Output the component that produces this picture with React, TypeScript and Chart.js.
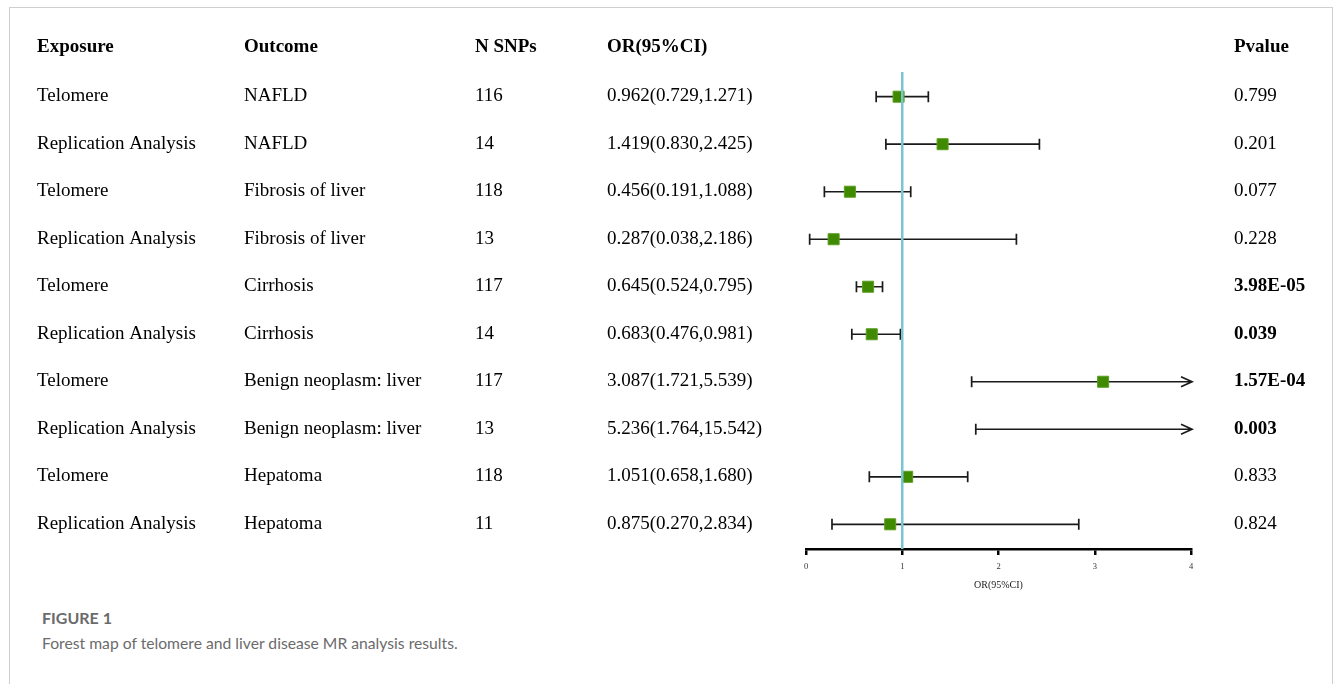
import React, { useEffect, useRef } from "react";
import { Chart, registerables } from "chart.js";

Chart.register(...registerables);

const headers = ["Exposure", "Outcome", "N SNPs", "OR(95%CI)", "Pvalue"];
const exposures = [
  "Telomere", "Replication Analysis", "Telomere", "Replication Analysis", "Telomere",
  "Replication Analysis", "Telomere", "Replication Analysis", "Telomere", "Replication Analysis",
];
const outcomes = [
  "NAFLD", "NAFLD", "Fibrosis of liver", "Fibrosis of liver", "Cirrhosis",
  "Cirrhosis", "Benign neoplasm: liver", "Benign neoplasm: liver", "Hepatoma", "Hepatoma",
];
const nSnps = [116, 14, 118, 13, 117, 14, 117, 13, 118, 11];
const orValues = [0.962, 1.419, 0.456, 0.287, 0.645, 0.683, 3.087, 5.236, 1.051, 0.875];
const ciLower = [0.729, 0.83, 0.191, 0.038, 0.524, 0.476, 1.721, 1.764, 0.658, 0.27];
const ciUpper = [1.271, 2.425, 1.088, 2.186, 0.795, 0.981, 5.539, 15.542, 1.68, 2.834];
const pValues = ["0.799", "0.201", "0.077", "0.228", "3.98E-05", "0.039", "1.57E-04", "0.003", "0.833", "0.824"];
const pBold = [false, false, false, false, true, true, true, true, false, false];
const xTicks = [0, 1, 2, 3, 4];
const refValue = 1;
const axisTitle = "OR(95%CI)";
const figureLabel = "FIGURE 1";
const captionText = "Forest map of telomere and liver disease MR analysis results.";

const X_MIN = xTicks[0];
const X_MAX = xTicks[xTicks.length - 1];
const Y_MIN = -0.52;
const Y_MAX = 9.52;
// column x positions in canvas px
const colX = [27, 234, 465, 597, 1224];

const fmt = (v: number) => v.toFixed(3);

const forestPlugin = {
  id: "forestTable",
  beforeDatasetsDraw(chart: any) {
    const { ctx, scales } = chart;
    const xs = scales.x;
    const ys = scales.y;
    ctx.save();
    ctx.strokeStyle = "#1a1a1a";
    ctx.lineWidth = 1.7;
    for (let i = 0; i < orValues.length; i++) {
      const y = ys.getPixelForValue(i);
      const x1 = xs.getPixelForValue(ciLower[i]);
      const over = ciUpper[i] > X_MAX;
      const x2 = xs.getPixelForValue(over ? X_MAX : ciUpper[i]);
      ctx.beginPath();
      ctx.moveTo(x1, y);
      ctx.lineTo(x2, y);
      ctx.moveTo(x1, y - 5.5);
      ctx.lineTo(x1, y + 5.5);
      if (over) {
        ctx.moveTo(x2 - 10, y - 5);
        ctx.lineTo(x2 + 1, y);
        ctx.lineTo(x2 - 10, y + 5);
      } else {
        ctx.moveTo(x2, y - 5.5);
        ctx.lineTo(x2, y + 5.5);
      }
      ctx.stroke();
    }
    ctx.restore();
  },
  afterDraw(chart: any) {
    const { ctx, scales } = chart;
    const ys = scales.y;
    ctx.save();
    ctx.fillStyle = "#000";
    ctx.textBaseline = "middle";
    ctx.textAlign = "left";
    const off = -0.5;
    ctx.font = 'bold 19px "Liberation Serif"';
    const hy = ys.getPixelForValue(-1) - 2.5;
    headers.forEach((h, k) => ctx.fillText(h, colX[k], hy));
    for (let i = 0; i < exposures.length; i++) {
      const y = ys.getPixelForValue(i) + off;
      ctx.font = '19px "Liberation Serif"';
      ctx.fillText(exposures[i], colX[0], y);
      ctx.fillText(outcomes[i], colX[1], y);
      ctx.fillText(String(nSnps[i]), colX[2], y);
      ctx.fillText(`${fmt(orValues[i])}(${fmt(ciLower[i])},${fmt(ciUpper[i])})`, colX[3], y);
      ctx.font = (pBold[i] ? "bold " : "") + '19px "Liberation Serif"';
      ctx.fillText(pValues[i], colX[4], y);
    }
    ctx.restore();
  },
};

export default function App() {
  const canvasRef = useRef<HTMLCanvasElement | null>(null);

  useEffect(() => {
    if (!canvasRef.current) return;
    const points = orValues.map((v, i) => ({ x: v, y: i }));
    const refLine = [
      { x: refValue, y: Y_MIN },
      { x: refValue, y: Y_MAX },
    ];
    const chart = new Chart(canvasRef.current, {
      type: "scatter",
      data: {
        datasets: [
          {
            data: refLine,
            showLine: true,
            borderColor: "#78c6cf",
            borderWidth: 2.5,
            pointRadius: 0,
          },
          {
            data: points,
            pointStyle: "rect",
            pointRadius: 7.8,
            backgroundColor: "#3f8a00",
            borderColor: "#5a9e22",
            borderWidth: 1,
          },
        ],
      } as any,
      options: {
        animation: false,
        responsive: true,
        maintainAspectRatio: false,
        events: [],
        layout: { padding: { left: 796, right: 141, top: 64, bottom: 9 } },
        plugins: { legend: { display: false }, tooltip: { enabled: false } },
        scales: {
          x: {
            type: "linear",
            position: "bottom",
            min: X_MIN,
            max: X_MAX,
            afterFit: (s: any) => {
              s.height = 50;
            },
            afterBuildTicks: (s: any) => {
              s.ticks = xTicks.map((v) => ({ value: v }));
            },
            ticks: {
              font: { family: '"Liberation Serif"', size: 8.5 },
              color: "#333",
              padding: 7,
              maxRotation: 0,
            },
            grid: {
              drawOnChartArea: false,
              drawTicks: true,
              tickLength: 6,
              color: "#000",
              lineWidth: 2.5,
            },
            border: { display: true, color: "#000", width: 2.5 },
            title: {
              display: true,
              text: axisTitle,
              font: { family: '"Liberation Serif"', size: 10 },
              color: "#222",
              padding: { top: 0, bottom: 8 },
            },
          },
          y: {
            type: "linear",
            display: false,
            reverse: true,
            min: Y_MIN,
            max: Y_MAX,
          },
        },
      } as any,
      plugins: [forestPlugin],
    });
    return () => chart.destroy();
  }, []);

  return (
    <div
      style={{
        position: "fixed",
        left: 9,
        top: 7,
        width: 1324,
        height: 677,
        boxSizing: "border-box",
        borderTop: "1px solid #cfcfcf",
        borderLeft: "1px solid #cfcfcf",
        borderRight: "1px solid #cfcfcf",
        background: "#fff",
      }}
    >
      <div style={{ position: "absolute", left: 0, top: 0, width: 1322, height: 600 }}>
        <canvas ref={canvasRef} />
      </div>
      <div
        style={{
          position: "absolute",
          left: 32,
          top: 600,
          fontFamily: "Lato, 'Open Sans', sans-serif",
          fontWeight: 700,
          fontSize: 16,
          lineHeight: "20px",
          color: "#6b6b6b",
          whiteSpace: "nowrap",
        }}
      >
        {figureLabel}
      </div>
      <div
        style={{
          position: "absolute",
          left: 32,
          top: 625,
          fontFamily: "Lato, 'Open Sans', sans-serif",
          fontSize: 15.7,
          lineHeight: "20px",
          color: "#6b6b6b",
          whiteSpace: "nowrap",
        }}
      >
        {captionText}
      </div>
    </div>
  );
}
